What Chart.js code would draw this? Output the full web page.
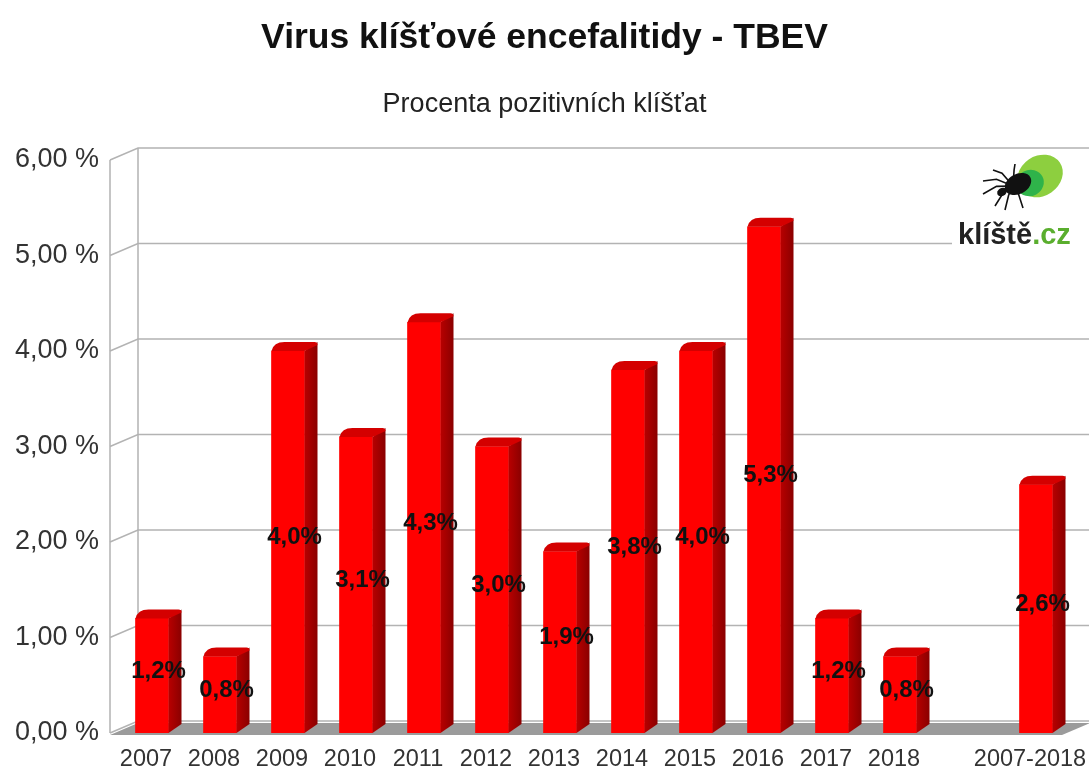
<!DOCTYPE html>
<html>
<head>
<meta charset="utf-8">
<script src="https://cdn.jsdelivr.net/npm/chart.js@4.4.1/dist/chart.umd.min.js"></script>
<style>
  body { margin: 0; background: #fff; }
  canvas { display: block; }
</style>
</head>
<body>
<canvas id="tbevChart" width="1089" height="771"></canvas>
<script>
// categories (empty one keeps the gap before the summary bar)
const years = ['2007', '2008', '2009', '2010', '2011', '2012', '2013', '2014', '2015', '2016', '2017', '2018', '', '2007-2018'];
// percent of positive ticks
const positives = [1.2, 0.8, 4.0, 3.1, 4.3, 3.0, 1.9, 3.8, 4.0, 5.3, 1.2, 0.8, null, 2.6];
const yMin = 0;
const yMax = 6;
const yStep = 1;

const FONT = "'Liberation Sans', Arial, sans-serif";

// depth of the walls / floor and of each bar
const WALL_DX = 28, WALL_DY = 12, WALL_SHIFT = 8;
const BAR_DX = 13, BAR_DY = 9;

const fmtPct = v => v.toFixed(1).replace('.', ',') + '%';

// back wall, left wall and floor behind the bars
const box3d = {
    id: 'box3d',
    beforeDatasetsDraw(chart) {
        const {ctx, chartArea: {left, right, top, bottom}, scales: {y}} = chart;
        const fx = left - WALL_SHIFT;
        ctx.save();
        ctx.strokeStyle = '#b3b3b3';
        ctx.lineWidth = 1.5;

        // horizontal lines on the back wall + diagonals on the left wall
        for (let v = yMin; v <= yMax; v += yStep) {
            const py = y.getPixelForValue(v);
            ctx.beginPath();
            ctx.moveTo(fx, py);
            ctx.lineTo(fx + WALL_DX, py - WALL_DY);
            ctx.lineTo(chart.width + 5, py - WALL_DY);
            ctx.stroke();
        }
        // left wall edges
        ctx.beginPath();
        ctx.moveTo(fx, top);
        ctx.lineTo(fx, bottom);
        ctx.moveTo(fx + WALL_DX, top - WALL_DY);
        ctx.lineTo(fx + WALL_DX, bottom - WALL_DY);
        ctx.stroke();

        // floor
        ctx.fillStyle = '#9b9b9b';
        ctx.beginPath();
        ctx.moveTo(fx, bottom + 2);
        ctx.lineTo(right - WALL_SHIFT, bottom + 2);
        ctx.lineTo(right - WALL_SHIFT + WALL_DX, bottom + 2 - WALL_DY);
        ctx.lineTo(fx + WALL_DX, bottom + 2 - WALL_DY);
        ctx.closePath();
        ctx.fill();
        ctx.restore();
    }
};

// side and top faces of the bars, then the value labels
const bars3d = {
    id: 'bars3d',
    afterDatasetsDraw(chart) {
        const {ctx} = chart;
        const meta = chart.getDatasetMeta(0);
        ctx.save();
        meta.data.forEach((bar, i) => {
            const v = positives[i];
            if (v === null || v === undefined) return;
            const {x, y, base, width} = bar.getProps(['x', 'y', 'base', 'width'], true);
            const l = x - width / 2, r = x + width / 2;

            // side face
            const sg = ctx.createLinearGradient(r, 0, r + BAR_DX, 0);
            sg.addColorStop(0, '#b80000');
            sg.addColorStop(1, '#8a0000');
            ctx.fillStyle = sg;
            ctx.beginPath();
            ctx.moveTo(r, y);
            ctx.lineTo(r + BAR_DX, y - BAR_DY);
            ctx.lineTo(r + BAR_DX, base - BAR_DY);
            ctx.lineTo(r, base);
            ctx.closePath();
            ctx.fill();

            // top face
            ctx.fillStyle = '#d40000';
            ctx.beginPath();
            ctx.moveTo(l, y);
            ctx.quadraticCurveTo(l + 2, y - BAR_DY, l + BAR_DX, y - BAR_DY);
            ctx.lineTo(r + BAR_DX - 3, y - BAR_DY);
            ctx.quadraticCurveTo(r + BAR_DX, y - BAR_DY, r + BAR_DX, y - BAR_DY + 3);
            ctx.lineTo(r, y);
            ctx.closePath();
            ctx.fill();

            // value label in the middle of the bar
            ctx.fillStyle = '#111';
            ctx.font = 'bold 24px ' + FONT;
            ctx.textAlign = 'center';
            ctx.textBaseline = 'middle';
            ctx.fillText(fmtPct(v), x + BAR_DX / 2, (y + base) / 2 - BAR_DY / 2);
        });
        ctx.restore();
    }
};

// klíště.cz logo in the top right corner
const logo = {
    id: 'logo',
    beforeDatasetsDraw(chart) {
        const {ctx} = chart;
        ctx.save();
        ctx.fillStyle = '#fff';
        ctx.fillRect(952, 152, 137, 98);

        // green blobs
        ctx.fillStyle = '#8dcf3f';
        ctx.beginPath();
        ctx.ellipse(1040, 176, 24, 20, -0.6, 0, Math.PI * 2);
        ctx.fill();
        ctx.fillStyle = '#2fb34a';
        ctx.beginPath();
        ctx.ellipse(1030, 183, 14, 13, -0.5, 0, Math.PI * 2);
        ctx.fill();

        // tick body and legs
        ctx.strokeStyle = '#111';
        ctx.lineWidth = 1.6;
        const legs = [[-20, -16], [-30, -5], [-30, 8], [-18, 20], [2, -22], [10, 22], [-8, 24]];
        legs.forEach(([dx, dy]) => {
            ctx.beginPath();
            ctx.moveTo(1013, 186);
            ctx.lineTo(1013 + dx * 0.55, 186 + dy * 0.55 - 4);
            ctx.lineTo(1013 + dx, 186 + dy);
            ctx.stroke();
        });
        ctx.fillStyle = '#111';
        ctx.beginPath();
        ctx.ellipse(1018, 184, 14, 10, -0.5, 0, Math.PI * 2);
        ctx.fill();
        ctx.beginPath();
        ctx.ellipse(1002, 192, 5, 4, -0.5, 0, Math.PI * 2);
        ctx.fill();

        // text
        ctx.font = 'bold 29px ' + FONT;
        ctx.textBaseline = 'alphabetic';
        ctx.textAlign = 'left';
        ctx.fillStyle = '#222';
        ctx.fillText('klíště', 958, 244);
        const w = ctx.measureText('klíště').width;
        ctx.fillStyle = '#5aae2e';
        ctx.fillText('.cz', 958 + w, 244);
        ctx.restore();
    }
};

new Chart(document.getElementById('tbevChart').getContext('2d'), {
    type: 'bar',
    data: {
        labels: years,
        datasets: [{
            data: positives,
            backgroundColor: (c) => {
                const a = c.chart.chartArea;
                if (!a) return '#ff0000';
                const el = c.element;
                if (!el || el.x === undefined) return '#ff0000';
                const g = c.chart.ctx.createLinearGradient(el.x - 16, 0, el.x + 16, 0);
                g.addColorStop(0, '#ff1a1a');
                g.addColorStop(0.6, '#ff0000');
                g.addColorStop(1, '#e20000');
                return g;
            },
            borderWidth: 0,
            barThickness: 33,
        }]
    },
    options: {
        responsive: false,
        animation: false,
        devicePixelRatio: 1,
        layout: {
            padding: 0
        },
        plugins: {
            legend: {display: false},
            tooltip: {enabled: false},
            title: {
                display: true,
                text: 'Virus klíšťové encefalitidy - TBEV',
                color: '#111',
                font: {family: FONT, size: 35.5, weight: 'bold'},
                padding: {top: 17, bottom: 29}
            },
            subtitle: {
                display: true,
                text: 'Procenta pozitivních klíšťat',
                color: '#222',
                font: {family: FONT, size: 27},
                padding: {top: 0, bottom: 39}
            }
        },
        scales: {
            x: {
                grid: {display: false, drawTicks: false},
                border: {display: false},
                afterFit: (s) => {
                    s.height = 38;
                    // fixed right margin, the last label may hang into it
                    s.paddingLeft = 0;
                    s.paddingRight = 19;
                },
                ticks: {
                    color: '#333',
                    padding: 12,
                    labelOffset: -6,
                    autoSkip: false,
                    maxRotation: 0,
                    font: {family: FONT, size: 23.5}
                }
            },
            y: {
                min: yMin,
                max: yMax,
                grid: {display: false, drawTicks: false},
                border: {display: false},
                afterFit: (s) => { s.width = 118; },
                ticks: {
                    stepSize: yStep,
                    color: '#333',
                    padding: 19,
                    font: {family: FONT, size: 27},
                    callback: (v) => v.toFixed(2).replace('.', ',') + ' %'
                }
            }
        }
    },
    plugins: [box3d, logo, bars3d]
});
</script>
</body>
</html>
